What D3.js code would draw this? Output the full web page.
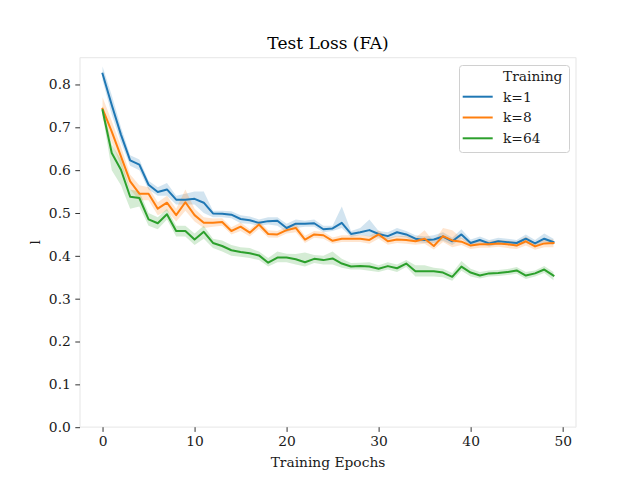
<!DOCTYPE html>
<html><head><meta charset="utf-8">
<script src="https://cdn.jsdelivr.net/npm/d3@7/dist/d3.min.js"></script>
<style>
body{margin:0;background:#fff;}
svg{display:block;font-family:"DejaVu Serif",serif;}
</style></head>
<body><svg id="c" width="640" height="480"></svg>
<script>
const epochs = d3.range(0, 50);
const seriesNames = ["k=1", "k=8", "k=64"];
const seriesColors = ["#1f77b4", "#ff7f0e", "#2ca02c"];
const xTicks = [0, 10, 20, 30, 40, 50];
const yTicks = [0.0, 0.1, 0.2, 0.3, 0.4, 0.5, 0.6, 0.7, 0.8];

const k1Mean = [0.825,0.752,0.683,0.623,0.613,0.566,0.549,0.555,0.531,0.531,0.533,0.524,0.499,0.498,0.496,0.486,0.483,0.477,0.481,0.482,0.465,0.475,0.475,0.476,0.462,0.464,0.477,0.451,0.455,0.460,0.451,0.446,0.455,0.450,0.440,0.437,0.438,0.445,0.434,0.450,0.430,0.437,0.429,0.434,0.432,0.430,0.440,0.429,0.440,0.432];
const k1Lo = [0.810,0.730,0.665,0.610,0.600,0.555,0.540,0.540,0.520,0.520,0.520,0.500,0.490,0.490,0.488,0.476,0.475,0.470,0.473,0.470,0.455,0.465,0.468,0.468,0.455,0.458,0.465,0.444,0.448,0.445,0.443,0.438,0.445,0.443,0.432,0.430,0.430,0.435,0.425,0.440,0.422,0.430,0.422,0.427,0.425,0.422,0.430,0.422,0.432,0.425];
const k1Hi = [0.842,0.775,0.700,0.635,0.625,0.575,0.560,0.570,0.540,0.545,0.550,0.550,0.505,0.505,0.504,0.495,0.492,0.485,0.490,0.490,0.475,0.485,0.482,0.485,0.470,0.470,0.515,0.458,0.465,0.485,0.458,0.455,0.465,0.458,0.448,0.445,0.448,0.455,0.442,0.462,0.438,0.445,0.437,0.442,0.440,0.437,0.450,0.437,0.452,0.440];

const k8Mean = [0.743,0.690,0.632,0.574,0.545,0.545,0.510,0.524,0.495,0.525,0.495,0.477,0.477,0.479,0.458,0.468,0.454,0.473,0.451,0.450,0.460,0.465,0.438,0.450,0.448,0.435,0.440,0.440,0.440,0.437,0.450,0.434,0.438,0.437,0.434,0.440,0.423,0.446,0.436,0.433,0.424,0.427,0.427,0.429,0.427,0.424,0.434,0.422,0.429,0.430];
const k8Lo = [0.720,0.665,0.610,0.555,0.530,0.530,0.495,0.505,0.480,0.505,0.480,0.465,0.468,0.470,0.450,0.458,0.445,0.463,0.443,0.442,0.452,0.455,0.430,0.442,0.440,0.428,0.432,0.432,0.432,0.428,0.440,0.426,0.430,0.428,0.426,0.428,0.415,0.432,0.420,0.425,0.416,0.419,0.419,0.421,0.418,0.416,0.424,0.414,0.420,0.420];
const k8Hi = [0.770,0.715,0.655,0.590,0.565,0.560,0.525,0.540,0.510,0.555,0.510,0.490,0.487,0.488,0.467,0.478,0.462,0.482,0.460,0.458,0.468,0.475,0.447,0.458,0.456,0.443,0.448,0.448,0.448,0.446,0.460,0.442,0.446,0.446,0.442,0.460,0.433,0.465,0.460,0.442,0.432,0.435,0.435,0.437,0.436,0.432,0.445,0.430,0.438,0.438];

const k64Mean = [0.740,0.640,0.601,0.538,0.535,0.485,0.476,0.497,0.458,0.458,0.438,0.456,0.430,0.423,0.413,0.409,0.406,0.401,0.384,0.396,0.396,0.392,0.385,0.393,0.390,0.394,0.382,0.375,0.376,0.375,0.370,0.376,0.371,0.382,0.364,0.364,0.364,0.361,0.351,0.375,0.361,0.354,0.359,0.360,0.362,0.366,0.354,0.359,0.368,0.354];
const k64Lo = [0.730,0.600,0.565,0.510,0.515,0.470,0.462,0.485,0.445,0.445,0.425,0.440,0.418,0.410,0.400,0.398,0.395,0.390,0.375,0.385,0.385,0.380,0.375,0.383,0.380,0.380,0.372,0.368,0.368,0.365,0.362,0.368,0.362,0.374,0.352,0.352,0.352,0.350,0.342,0.365,0.352,0.347,0.352,0.353,0.355,0.358,0.346,0.352,0.360,0.343];
const k64Hi = [0.750,0.660,0.625,0.555,0.550,0.500,0.490,0.510,0.470,0.470,0.452,0.470,0.440,0.436,0.425,0.420,0.418,0.410,0.395,0.410,0.405,0.404,0.408,0.402,0.400,0.410,0.393,0.383,0.384,0.385,0.378,0.385,0.380,0.390,0.378,0.378,0.372,0.370,0.360,0.388,0.370,0.362,0.366,0.367,0.369,0.374,0.362,0.366,0.376,0.362];

const series = [
  {name: seriesNames[0], color: seriesColors[0], mean: k1Mean, lo: k1Lo, hi: k1Hi},
  {name: seriesNames[1], color: seriesColors[1], mean: k8Mean, lo: k8Lo, hi: k8Hi},
  {name: seriesNames[2], color: seriesColors[2], mean: k64Mean, lo: k64Lo, hi: k64Hi}
];

const svg = d3.select("#c");
const L = 80, R = 576, T = 57.6, B = 427.2;
const x = d3.scaleLinear().domain([-2.45, 51.45]).range([L, R]);
const y = d3.scaleLinear().domain([0, 0.8627]).range([B, T]);
const fs = "13.8px";

// bands
series.forEach(s => {
  const area = d3.area().x((d,i)=>x(epochs[i])).y0((d,i)=>y(s.lo[i])).y1((d,i)=>y(s.hi[i]));
  svg.append("path").attr("d", area(s.mean)).attr("fill", s.color).attr("fill-opacity", 0.2).attr("stroke","none");
});
series.forEach(s => {
  const line = d3.line().x((d,i)=>x(epochs[i])).y(d=>y(d));
  svg.append("path").attr("d", line(s.mean)).attr("fill","none").attr("stroke", s.color).attr("stroke-width", 2).attr("stroke-linecap","square").attr("stroke-linejoin","round");
});

// spines
const spine = "#ebebeb";
svg.append("line").attr("x1",L).attr("x2",L).attr("y1",T).attr("y2",B).attr("stroke",spine).attr("stroke-width",1.3);
svg.append("line").attr("x1",L).attr("x2",R).attr("y1",B).attr("y2",B).attr("stroke",spine).attr("stroke-width",1.3);
svg.append("line").attr("x1",R).attr("x2",R).attr("y1",T).attr("y2",B).attr("stroke",spine).attr("stroke-width",1.3);
svg.append("line").attr("x1",L).attr("x2",R).attr("y1",T).attr("y2",T).attr("stroke",spine).attr("stroke-width",1.3);

// axes
const xAxis = d3.axisBottom(x).tickValues(xTicks).tickSize(4.7).tickPadding(4.5).tickFormat(d3.format("d"));
const gx = svg.append("g").attr("transform",`translate(0,${B})`).call(xAxis);
const yAxis = d3.axisLeft(y).tickValues(yTicks).tickSize(4.7).tickPadding(4.5).tickFormat(d3.format(".1f"));
const gy = svg.append("g").attr("transform",`translate(${L},0)`).call(yAxis);
[gx, gy].forEach(g => {
  g.select(".domain").remove();
  g.selectAll(".tick line").attr("stroke","#333").attr("stroke-width",1);
  g.selectAll(".tick text").attr("fill","#1a1a1a").style("font-family","DejaVu Serif").style("font-size",fs);
});

// labels
svg.append("text").attr("x",(L+R)/2).attr("y",49).attr("text-anchor","middle").style("font-size","17px").attr("fill","#000").text("Test Loss (FA)");
svg.append("text").attr("x",(L+R)/2).attr("y",467).attr("text-anchor","middle").style("font-size",fs).attr("fill","#1a1a1a").text("Training Epochs");
svg.append("text").attr("transform",`translate(40,${(T+B)/2}) rotate(-90)`).attr("text-anchor","middle").style("font-size",fs).attr("fill","#1a1a1a").text("l");

// legend
const lg = svg.append("g");
lg.append("rect").attr("x",459.5).attr("y",65.5).attr("width",110).attr("height",87).attr("rx",3).attr("fill","#fff").attr("fill-opacity",0.8).attr("stroke","#d0d0d0");
lg.append("text").attr("x",503).attr("y",80.5).style("font-size",fs).attr("fill","#1a1a1a").text("Training");
series.forEach((s,i) => {
  const cy = 96.7 + i*20.8;
  lg.append("line").attr("x1",462.7).attr("x2",492.7).attr("y1",cy).attr("y2",cy).attr("stroke",s.color).attr("stroke-width",2);
  lg.append("text").attr("x",503).attr("y",cy+4.8).style("font-size",fs).attr("fill","#1a1a1a").text(s.name);
});
</script></body></html>
